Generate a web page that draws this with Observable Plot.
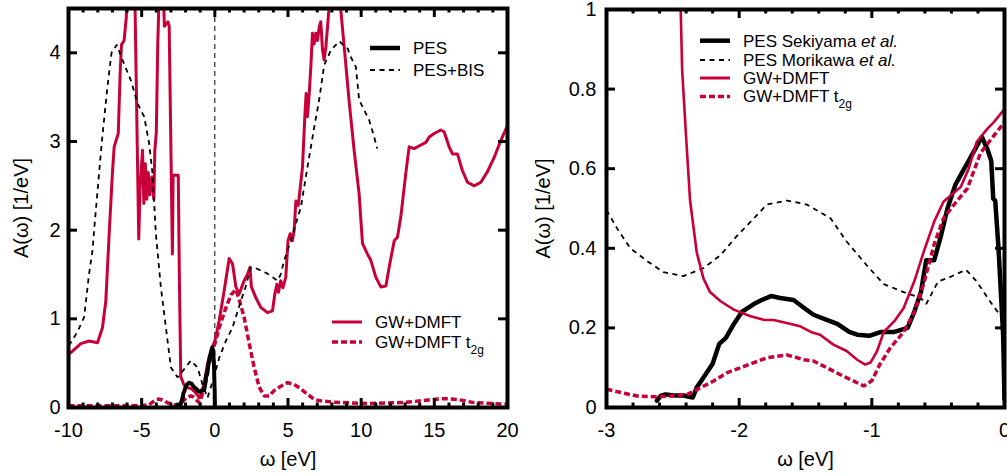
<!DOCTYPE html>
<html><head><meta charset="utf-8">
<script src="https://cdn.jsdelivr.net/npm/d3@7"></script>
<script src="https://cdn.jsdelivr.net/npm/@observablehq/plot@0.6"></script>
<style>
body{margin:0;background:#fff;}
#wrap{position:relative;width:1007px;height:476px;overflow:hidden;background:#fff;}
#left{position:absolute;left:0;top:0;}
#right{position:absolute;left:520px;top:0;}
svg{overflow:visible}
</style></head><body>
<div id="wrap"><div id="left"></div><div id="right"></div></div>
<script>
// ---------- data (ω in eV, A(ω) in 1/eV) ----------
const gwLeft = [[-10,0.6],[-9.84,0.62],[-9.16,0.72],[-8.59,0.75],[-8.02,0.73],[-7.68,0.9],[-7.45,1.2],[-7.22,1.96],[-7.0,2.64],[-6.88,2.94],[-6.6,3.09],[-6.47,3.77],[-6.38,4.09],[-6.2,4.14],[-6.05,4.4],[-5.94,5.0],[-5.75,5.3],[-5.55,4.8],[-5.45,4.5],[-5.2,1.9],[-5.1,2.5],[-4.94,2.9],[-4.85,2.3],[-4.75,2.75],[-4.65,2.35],[-4.55,2.65],[-4.45,2.4],[-4.3,2.6],[-4.17,2.35],[-4.1,2.9],[-4.0,3.1],[-3.9,4.1],[-3.78,4.8],[-3.62,5.1],[-3.5,4.6],[-3.45,4.3],[-3.2,4.35],[-3.12,4.3],[-2.9,1.73],[-2.85,2.62],[-2.5,2.62],[-2.42,1.43],[-2.33,0.35],[-2.27,0.325],[-2.14,0.267],[-2.04,0.246],[-1.92,0.23],[-1.81,0.22],[-1.74,0.22],[-1.61,0.21],[-1.54,0.204],[-1.46,0.19],[-1.39,0.183],[-1.29,0.158],[-1.19,0.142],[-1.11,0.12],[-1.05,0.108],[-1.01,0.113],[-0.96,0.142],[-0.91,0.19],[-0.83,0.217],[-0.76,0.25],[-0.68,0.317],[-0.61,0.39],[-0.53,0.467],[-0.46,0.517],[-0.38,0.54],[-0.33,0.554],[-0.27,0.6],[-0.21,0.667],[-0.13,0.7],[-0.08,0.717],[0,0.75],[0.3,0.98],[0.64,1.32],[0.98,1.68],[1.21,1.62],[1.44,1.36],[1.66,1.28],[2.0,1.43],[2.23,1.5],[2.4,1.58],[2.5,1.36],[2.8,1.24],[3.14,1.13],[3.6,1.07],[3.94,1.09],[4.1,1.28],[4.24,1.39],[4.35,1.3],[4.5,1.43],[4.65,1.35],[4.85,1.47],[5.0,1.88],[5.15,1.96],[5.3,1.88],[5.42,2.0],[5.54,2.33],[5.7,2.28],[5.99,2.71],[6.15,3.28],[6.24,3.54],[6.33,3.28],[6.45,3.54],[6.56,3.84],[6.67,4.22],[6.79,4.1],[6.9,4.22],[7.02,4.14],[7.13,4.29],[7.24,4.35],[7.36,4.03],[7.47,3.92],[7.59,4.07],[7.7,4.29],[7.81,4.52],[8.0,5.0],[8.3,5.2],[8.6,4.5],[8.84,4.07],[9.18,3.45],[9.52,2.9],[9.86,2.41],[10.09,1.85],[10.43,1.73],[10.66,1.66],[11.0,1.47],[11.34,1.36],[11.69,1.37],[11.91,1.58],[12.26,1.88],[12.48,1.92],[12.71,2.15],[13.05,2.64],[13.28,2.94],[13.62,2.92],[14.08,2.96],[14.42,2.99],[14.65,3.05],[14.99,3.09],[15.44,3.13],[15.67,3.11],[16.01,2.94],[16.24,2.86],[16.58,2.86],[16.92,2.67],[17.27,2.54],[17.72,2.5],[18.18,2.54],[18.63,2.66],[19.09,2.82],[19.54,3.01],[20,3.18]];

const t2gLeft = [[-10,0.02],[-9,0.02],[-8,0.02],[-7,0.02],[-6,0.02],[-5,0.022],[-4.5,0.03],[-4.26,0.06],[-4.0,0.09],[-3.8,0.095],[-3.6,0.085],[-3.46,0.075],[-3.2,0.05],[-3.0,0.046],[-2.77,0.029],[-2.52,0.029],[-2.29,0.05],[-2.09,0.0875],[-1.89,0.1125],[-1.64,0.132],[-1.44,0.117],[-1.24,0.083],[-1.06,0.054],[-0.94,0.108],[-0.76,0.19],[-0.61,0.31],[-0.46,0.475],[-0.28,0.55],[-0.08,0.683],[0,0.717],[0.3,0.9],[0.7,1.1],[1.1,1.27],[1.44,1.33],[1.66,1.22],[2.0,1.02],[2.35,0.72],[2.69,0.45],[3.03,0.23],[3.37,0.13],[3.71,0.13],[4.05,0.19],[4.51,0.24],[4.97,0.28],[5.42,0.26],[5.88,0.21],[6.33,0.15],[6.79,0.09],[7.24,0.075],[8.15,0.06],[10.4,0.045],[12.7,0.055],[14.08,0.075],[14.8,0.09],[15.7,0.1],[16.6,0.09],[17.7,0.055],[19.5,0.04],[20,0.04]];

const pesBis = [[-10,0.7],[-9.84,0.73],[-9.4,0.85],[-8.93,1.02],[-8.6,1.5],[-8.36,1.77],[-8.25,2.0],[-7.72,3.0],[-7.35,3.6],[-7.06,4.0],[-6.7,4.09],[-6.31,3.92],[-5.74,3.69],[-5.28,3.43],[-4.83,3.28],[-4.49,2.98],[-4.26,2.64],[-4.03,1.96],[-3.92,1.77],[-3.69,1.36],[-3.0,0.45],[-2.55,0.34],[-2.2,0.41],[-1.64,0.53],[-1.18,0.45],[-0.84,0.26],[-0.5,0.11],[-0.27,0.23],[0,0.38],[0.3,0.56],[0.75,0.75],[1.2,0.9],[1.78,1.2],[2.1,1.36],[2.46,1.58],[2.69,1.58],[3.6,1.51],[4.28,1.43],[4.5,1.5],[4.74,1.66],[5.19,1.88],[5.88,2.26],[6.33,2.71],[6.79,3.16],[7.13,3.47],[7.47,3.86],[7.93,4.03],[8.5,4.13],[9.07,4.05],[9.3,3.95],[9.64,3.84],[9.86,3.47],[10.1,3.39],[10.55,3.24],[10.89,3.05],[11.1,2.92]];

const pesSekiyama = [[-2.62,0.017],[-2.59,0.03],[-2.555,0.033],[-2.49,0.03],[-2.42,0.03],[-2.35,0.025],[-2.32,0.05],[-2.27,0.075],[-2.2,0.11],[-2.15,0.16],[-2.1,0.175],[-2.04,0.21],[-1.98,0.24],[-1.89,0.26],[-1.83,0.27],[-1.76,0.28],[-1.69,0.275],[-1.59,0.27],[-1.51,0.25],[-1.44,0.233],[-1.34,0.22],[-1.26,0.21],[-1.17,0.19],[-1.11,0.183],[-1.02,0.18],[-0.93,0.19],[-0.83,0.19],[-0.73,0.2],[-0.68,0.24],[-0.63,0.29],[-0.59,0.37],[-0.53,0.37],[-0.48,0.43],[-0.43,0.5],[-0.37,0.56],[-0.32,0.59],[-0.27,0.62],[-0.22,0.65],[-0.17,0.68],[-0.13,0.65],[-0.1,0.62],[-0.085,0.525],[-0.07,0.52],[-0.045,0.4],[-0.01,0.18],[0,0.02]];

const pesMorikawa = [[-3.0,0.496],[-2.92,0.45],[-2.82,0.4],[-2.69,0.367],[-2.57,0.34],[-2.42,0.33],[-2.27,0.35],[-2.14,0.383],[-2.02,0.43],[-1.89,0.475],[-1.79,0.51],[-1.64,0.52],[-1.49,0.51],[-1.31,0.475],[-1.19,0.417],[-1.04,0.358],[-0.91,0.31],[-0.76,0.29],[-0.63,0.275],[-0.59,0.26],[-0.5,0.317],[-0.43,0.325],[-0.29,0.346],[-0.21,0.317],[-0.11,0.267],[0,0.217]];

const gwRight = [[-2.47,1.4],[-2.44,0.99],[-2.43,0.85],[-2.4,0.68],[-2.37,0.52],[-2.32,0.39],[-2.27,0.325],[-2.22,0.29],[-2.14,0.267],[-2.04,0.246],[-1.92,0.23],[-1.81,0.22],[-1.74,0.22],[-1.61,0.21],[-1.54,0.204],[-1.46,0.19],[-1.39,0.183],[-1.29,0.158],[-1.19,0.142],[-1.11,0.12],[-1.05,0.108],[-1.01,0.113],[-0.96,0.142],[-0.91,0.19],[-0.83,0.217],[-0.76,0.25],[-0.68,0.317],[-0.61,0.39],[-0.53,0.467],[-0.46,0.517],[-0.38,0.54],[-0.33,0.554],[-0.27,0.6],[-0.21,0.667],[-0.13,0.7],[-0.08,0.717],[0,0.75]];

const t2gRight = [[-3.0,0.046],[-2.89,0.0375],[-2.77,0.029],[-2.64,0.027],[-2.52,0.029],[-2.39,0.033],[-2.29,0.05],[-2.19,0.067],[-2.09,0.0875],[-1.99,0.1],[-1.89,0.1125],[-1.79,0.125],[-1.64,0.132],[-1.51,0.12],[-1.44,0.117],[-1.34,0.1],[-1.24,0.083],[-1.14,0.067],[-1.06,0.054],[-1.0,0.067],[-0.94,0.108],[-0.86,0.15],[-0.76,0.19],[-0.68,0.24],[-0.61,0.31],[-0.53,0.41],[-0.46,0.475],[-0.38,0.51],[-0.28,0.55],[-0.18,0.64],[-0.08,0.683],[0,0.717]];

const xMajorLeft = [-10,-5,0,5,10,15,20];
const xMinorLeft = [-9,-8,-7,-6,-4,-3,-2,-1,1,2,3,4,6,7,8,9,11,12,13,14,16,17,18,19];
const yMajorLeft = [0,1,2,3,4];
const xMajorRight = [-3,-2,-1,0];
const xMinorRight = [-2.8,-2.6,-2.4,-2.2,-1.8,-1.6,-1.4,-1.2,-0.8,-0.6,-0.4,-0.2];
const yMajorRight = [0,0.2,0.4,0.6,0.8,1];

const legendLeftTop = [
  {parts:[["PES"]], stroke:"black", w:4.5, dash:null},
  {parts:[["PES+BIS"]], stroke:"black", w:1.8, dash:"5,4.5"}
];
const legendLeftBottom = [
  {parts:[["GW+DMFT"]], stroke:"RED", w:3, dash:null},
  {parts:[["GW+DMFT t"],["2g","sub"]], stroke:"RED", w:3.5, dash:"6,3"}
];
const legendRight = [
  {parts:[["PES Sekiyama "],["et al.","it"]], stroke:"black", w:4.5, dash:null},
  {parts:[["PES Morikawa "],["et al.","it"]], stroke:"black", w:1.8, dash:"5,4.5"},
  {parts:[["GW+DMFT"]], stroke:"RED", w:3, dash:null},
  {parts:[["GW+DMFT t"],["2g","sub"]], stroke:"RED", w:3.5, dash:"6,3"}
];

// ---------- styling ----------
const RED = "#c8003a";
const FONT = "'Liberation Sans', Arial, Helvetica, sans-serif";
const X = d => d[0], Y = d => d[1];
const fmt = d => String(d);

// inward ticks on all four sides, as Plot tick marks shortened with insets
function frameTicks(W, H, xMaj, xMin, yMaj) {
  const M = 9, m = 4.5, o = {stroke: "black", strokeWidth: 3, strokeLinecap: "butt"};
  return [
    Plot.tickX(xMaj, {x: d => d, insetTop: H - M, ...o}),
    Plot.tickX(xMaj, {x: d => d, insetBottom: H - M, ...o}),
    Plot.tickX(xMin, {x: d => d, insetTop: H - m, ...o}),
    Plot.tickX(xMin, {x: d => d, insetBottom: H - m, ...o}),
    Plot.tickY(yMaj, {y: d => d, insetRight: W - M, ...o}),
    Plot.tickY(yMaj, {y: d => d, insetLeft: W - M, ...o}),
    Plot.frame({stroke: "black", strokeWidth: 4})
  ];
}

function addLegend(svg, items, x0, x1, xt, ys) {
  const g = d3.select(svg).append("g").attr("font-family", FONT).attr("font-size", 17).attr("text-anchor", "start");
  items.forEach((it, i) => {
    const y = ys[i];
    const col = it.stroke === "RED" ? RED : it.stroke;
    g.append("line").attr("x1", x0).attr("x2", x1).attr("y1", y).attr("y2", y)
      .attr("stroke", col).attr("stroke-width", it.w)
      .attr("stroke-dasharray", it.dash);
    const t = g.append("text").attr("x", xt).attr("y", y).attr("dy", "0.35em").attr("fill", "black").attr("text-anchor", "start");
    it.parts.forEach(([s, kind]) => {
      const ts = t.append("tspan").text(s);
      if (kind === "it") ts.attr("font-style", "italic");
      if (kind === "sub") ts.attr("font-size", 12).attr("dy", 6);
    });
  });
}

const dashed = {strokeLinecap: "butt", strokeLinejoin: "miter"};

// ---------- left panel ----------
const L = {width: 520, height: 476, ml: 68, mr: 13, mt: 8, mb: 69};
const left = Plot.plot({
  width: L.width, height: L.height,
  marginLeft: L.ml, marginRight: L.mr, marginTop: L.mt, marginBottom: L.mb,
  x: {domain: [-10, 20]},
  y: {domain: [0, 4.5]},
  style: {fontFamily: FONT, fontSize: "20px", background: "white", color: "black", overflow: "visible"},
  marks: [
    Plot.ruleX([0], {stroke: "black", strokeWidth: 1, strokeDasharray: "5,4"}),
    Plot.line(gwLeft, {x: X, y: Y, stroke: RED, strokeWidth: 3, clip: true}),
    Plot.line(t2gLeft, {x: X, y: Y, stroke: RED, strokeWidth: 3.5, strokeDasharray: "6,3", ...dashed, clip: true}),
    Plot.line(pesBis, {x: X, y: Y, stroke: "black", strokeWidth: 1.8, strokeDasharray: "5,4.5", ...dashed, clip: true}),
    Plot.line(pesSekiyama, {x: X, y: Y, stroke: "black", strokeWidth: 4, clip: true}),
    Plot.axisX(xMajorLeft, {anchor: "bottom", tickSize: 0, tickPadding: 15, tickFormat: fmt, label: "ω [eV]", labelAnchor: "center", labelArrow: "none", labelOffset: 58}),
    Plot.axisY(yMajorLeft, {anchor: "left", tickSize: 0, tickPadding: 8, tickFormat: fmt, label: "A(ω) [1/eV]", labelAnchor: "center", labelArrow: "none", labelOffset: 55}),
    ...frameTicks(L.width - L.ml - L.mr, L.height - L.mt - L.mb, xMajorLeft, xMinorLeft, yMajorLeft)
  ]
});
document.getElementById("left").appendChild(left);
addLegend(left, legendLeftTop, 370, 400, 413, [48, 70]);
addLegend(left, legendLeftBottom, 332, 362, 375, [322, 342]);

// ---------- right panel ----------
const R = {width: 487, height: 476, ml: 86, mr: 3, mt: 9, mb: 69};
const right = Plot.plot({
  width: R.width, height: R.height,
  marginLeft: R.ml, marginRight: R.mr, marginTop: R.mt, marginBottom: R.mb,
  x: {domain: [-3, 0]},
  y: {domain: [0, 1]},
  style: {fontFamily: FONT, fontSize: "20px", background: "white", color: "black", overflow: "visible"},
  marks: [
    Plot.line(pesMorikawa, {x: X, y: Y, stroke: "black", strokeWidth: 1.8, strokeDasharray: "5,4.5", ...dashed, clip: true}),
    Plot.line(pesSekiyama, {x: X, y: Y, stroke: "black", strokeWidth: 4.5, clip: true}),
    Plot.line(gwRight, {x: X, y: Y, stroke: RED, strokeWidth: 2.6, clip: true}),
    Plot.line(t2gRight, {x: X, y: Y, stroke: RED, strokeWidth: 3.5, strokeDasharray: "6,3", ...dashed, clip: true}),
    Plot.axisX(xMajorRight, {anchor: "bottom", tickSize: 0, tickPadding: 15, tickFormat: fmt, label: "ω [eV]", labelAnchor: "center", labelArrow: "none", labelOffset: 58}),
    Plot.axisY(yMajorRight, {anchor: "left", tickSize: 0, tickPadding: 10, tickFormat: fmt, label: "A(ω) [1/eV]", labelAnchor: "center", labelArrow: "none", labelOffset: 71}),
    ...frameTicks(R.width - R.ml - R.mr, R.height - R.mt - R.mb, xMajorRight, xMinorRight, yMajorRight)
  ]
});
document.getElementById("right").appendChild(right);
addLegend(right, legendRight, 180, 210, 223, [40.7, 60, 78, 96.5]);
</script>
</body></html>
